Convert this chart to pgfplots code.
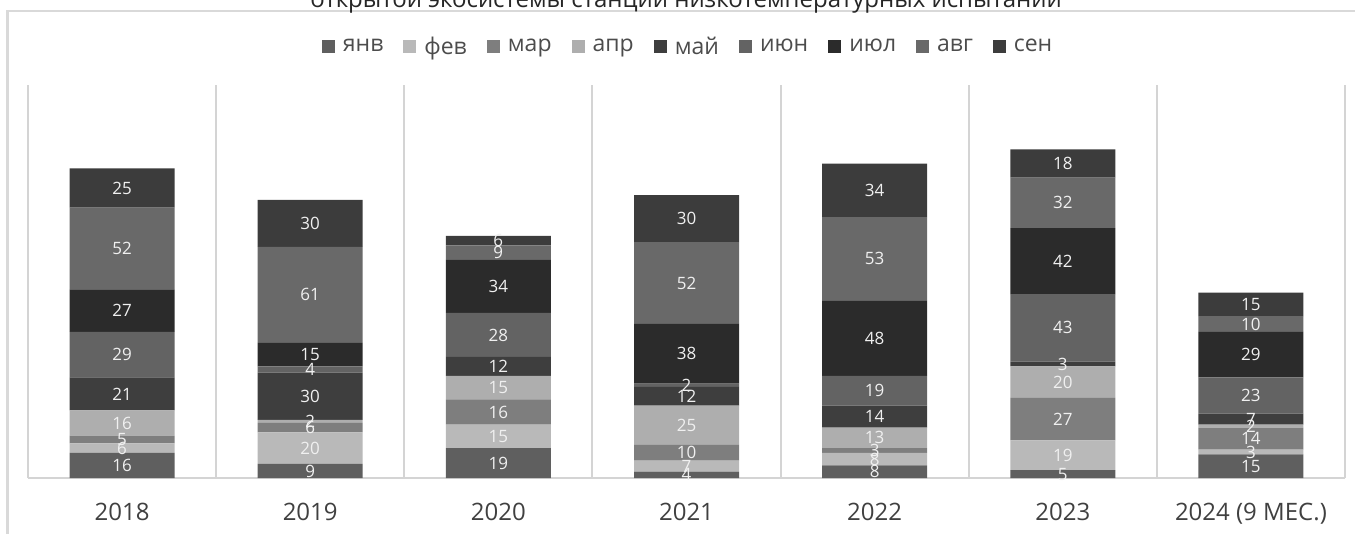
\documentclass[border=0pt]{standalone}
\usepackage{fontspec}
\setmainfont{Open Sans}
\usepackage{pgfplots}
\usepackage{pgfplotstable}
\pgfplotsset{compat=1.18}
\definecolor{cjan}{HTML}{5F5F5F}
\definecolor{cfeb}{HTML}{B9B9B9}
\definecolor{cmar}{HTML}{7E7E7E}
\definecolor{capr}{HTML}{AEAEAE}
\definecolor{cmay}{HTML}{3E3E3E}
\definecolor{cjun}{HTML}{636363}
\definecolor{cjul}{HTML}{2B2B2B}
\definecolor{caug}{HTML}{696969}
\definecolor{csep}{HTML}{3C3C3C}
\definecolor{gridc}{HTML}{D4D4D4}
\definecolor{framec}{HTML}{D9D9D9}
\definecolor{labc}{HTML}{404040}
\pgfplotstableread{
x jan feb mar apr may jun jul aug sep
0 16 6 5 16 21 29 27 52 25
1 9 20 6 2 30 4 15 61 30
2 19 15 16 15 12 28 34 9 6
3 4 7 10 25 12 2 38 52 30
4 8 8 3 13 14 19 48 53 34
5 5 19 27 20 3 43 42 32 18
6 15 3 14 2 7 23 29 10 15
}\data
\pgfplotsset{
  sqleg/.style={legend image code/.code={\fill[##1,draw=none] (0pt,-3.25pt) rectangle (6.5pt,3.25pt);}},
}
\begin{document}
\begin{tikzpicture}
\useasboundingbox (0,0) rectangle (677.5pt,-267pt);
\clip (0,0) rectangle (677.5pt,-267pt);
\draw[line width=1.4pt, color=framec] (3.75pt,-5.5pt) rectangle (720pt,-300pt);
\node[anchor=base, font=\fontsize{12}{14}\selectfont, text=black!85, inner sep=0pt] at (343pt,-3.75pt) {открытой экосистемы станции низкотемпературных испытаний};
\begin{axis}[
  at={(14pt,-239pt)}, anchor=south west,
  scale only axis, width=658.5pt, height=196.5pt,
  ybar stacked, bar width=52.5pt,
  xmin=-0.5, xmax=6.5, ymin=0, ymax=250,
  axis x line=bottom, axis y line=none,
  x axis line style={-, gridc, line width=1pt},
  xtick={0,...,6},
  xticklabels={2018,2019,2020,2021,2022,2023,2024 (9 МЕС.)},
  major tick length=0pt, minor tick length=0pt,
  minor xtick={-0.5,0.5,...,6.5},
  xminorgrids=true,
  minor grid style={gridc, line width=1pt},
  xticklabel style={font=\fontsize{12}{14}\selectfont, text=labc, anchor=base, yshift=-21pt},
  nodes near coords,
  /pgf/number format/assume math mode=true,
  every node near coord/.append style={anchor=center, font=\fontsize{8.5}{9}\selectfont, text=white!94!black, inner sep=0pt},
  legend columns=9,
  legend style={at={(0.502,1.097)}, anchor=center, draw=none, fill=none,
    font=\fontsize{11.5}{13}\selectfont, text=black!70,
    /tikz/every odd column/.append style={column sep=2pt},
    /tikz/every even column/.append style={column sep=8pt}},
]
\addplot[fill=cjan, draw=none, sqleg] table[x=x, y=jan] {\data};
\addlegendentry{янв}
\addplot[fill=cfeb, draw=none, sqleg] table[x=x, y=feb] {\data};
\addlegendentry{фев}
\addplot[fill=cmar, draw=none, sqleg] table[x=x, y=mar] {\data};
\addlegendentry{мар}
\addplot[fill=capr, draw=none, sqleg] table[x=x, y=apr] {\data};
\addlegendentry{апр}
\addplot[fill=cmay, draw=none, sqleg] table[x=x, y=may] {\data};
\addlegendentry{май}
\addplot[fill=cjun, draw=none, sqleg] table[x=x, y=jun] {\data};
\addlegendentry{июн}
\addplot[fill=cjul, draw=none, sqleg] table[x=x, y=jul] {\data};
\addlegendentry{июл}
\addplot[fill=caug, draw=none, sqleg] table[x=x, y=aug] {\data};
\addlegendentry{авг}
\addplot[fill=csep, draw=none, sqleg] table[x=x, y=sep] {\data};
\addlegendentry{сен}
\end{axis}
\end{tikzpicture}
\end{document}
